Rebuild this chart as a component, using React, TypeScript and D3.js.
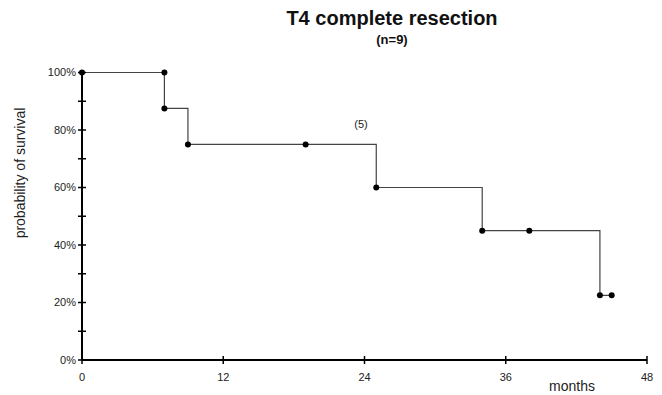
import React from "react";
import * as d3 from "d3";

// Kaplan-Meier steps (months, survival)
const stepMonths = [0, 7, 9, 25, 34, 44];
const stepSurvival = [1.0, 0.875, 0.75, 0.6, 0.45, 0.225];
const lastMonth = 45;

// markers drawn on the curve
const markMonths = [0, 7, 7, 9, 19, 25, 34, 38, 44, 45];
const markSurvival = [1.0, 1.0, 0.875, 0.75, 0.75, 0.6, 0.45, 0.45, 0.225, 0.225];

const xTicks = [0, 12, 24, 36, 48];
const yMajor = [0, 0.2, 0.4, 0.6, 0.8, 1.0];
const yMinor = [0.1, 0.3, 0.5, 0.7, 0.9];

const W = 662;
const H = 395;
const FONT = "'Liberation Sans', Arial, sans-serif";

export default function App() {
  const x = d3.scaleLinear().domain([0, 48]).range([82, 647]);
  const y = d3.scaleLinear().domain([0, 1]).range([360, 72.5]);

  const pts: [number, number][] = stepMonths.map((m, i) => [m, stepSurvival[i]]);
  pts.push([lastMonth, stepSurvival[stepSurvival.length - 1]]);

  const line = d3
    .line<[number, number]>()
    .x((d) => x(d[0]))
    .y((d) => y(d[1]))
    .curve(d3.curveStepAfter);

  const fmt = d3.format(".0%");

  return (
    <svg
      width={W}
      height={H}
      style={{ position: "absolute", left: 0, top: 0, background: "#fff" }}
      fontFamily={FONT}
    >
      {/* titles */}
      <text x={392} y={25} textAnchor="middle" fontSize={20} fontWeight="bold" fill="#111">
        T4 complete resection
      </text>
      <text x={392} y={44} textAnchor="middle" fontSize={13} fontWeight="bold" fill="#111">
        (n=9)
      </text>

      {/* survival curve */}
      <path d={line(pts) ?? ""} fill="none" stroke="#444" strokeWidth={1.2} />
      {markMonths.map((m, i) => (
        <circle key={i} cx={x(m)} cy={y(markSurvival[i])} r={3} fill="#000" />
      ))}

      <text x={361} y={128} textAnchor="middle" fontSize={11} fill="#222">
        (5)
      </text>

      {/* y axis */}
      <line x1={x(0)} x2={x(0)} y1={y(1)} y2={y(0)} stroke="#000" strokeWidth={2} />
      {yMajor.concat(yMinor).map((v) => (
        <line key={v} x1={x(0) - 4} x2={x(0) + 4} y1={y(v)} y2={y(v)} stroke="#000" strokeWidth={1.5} />
      ))}
      {yMajor.map((v) => (
        <text key={v} x={76} y={y(v)} dy="0.35em" textAnchor="end" fontSize={11} fill="#222">
          {fmt(v)}
        </text>
      ))}
      <text
        transform={`translate(25, 173) rotate(-90)`}
        textAnchor="middle"
        fontSize={14}
        fill="#222"
      >
        probability of survival
      </text>

      {/* x axis */}
      <line x1={x(0)} x2={x(48)} y1={y(0)} y2={y(0)} stroke="#000" strokeWidth={2} />
      {xTicks.map((t) => (
        <line key={t} x1={x(t)} x2={x(t)} y1={y(0) - 4} y2={y(0) + 4} stroke="#000" strokeWidth={1.5} />
      ))}
      {xTicks.map((t) => (
        <text key={t} x={x(t)} y={381} textAnchor="middle" fontSize={11} fill="#222">
          {t}
        </text>
      ))}
      <text x={572} y={391} textAnchor="middle" fontSize={14} fill="#222">
        months
      </text>
    </svg>
  );
}
